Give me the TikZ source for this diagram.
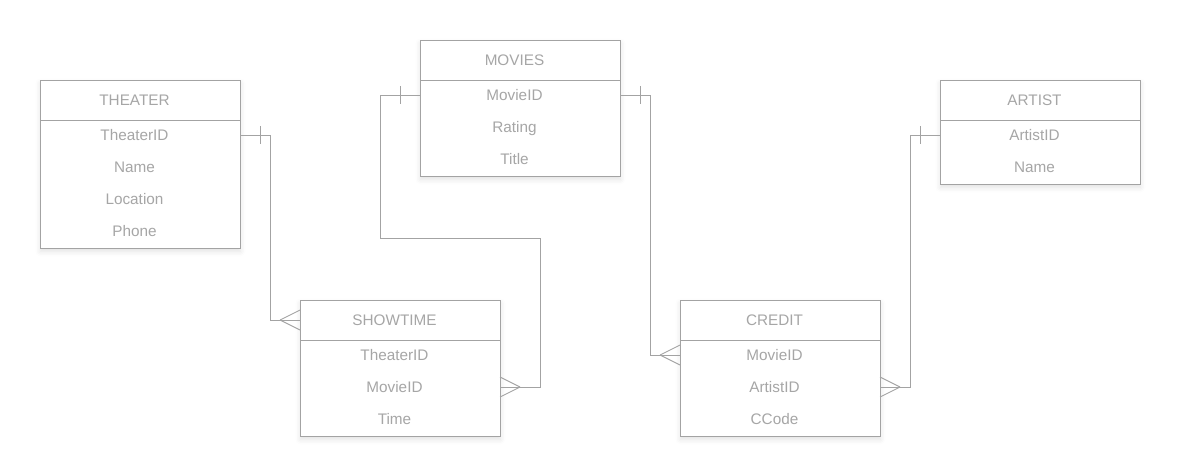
\documentclass[tikz,border=0pt]{standalone}
\usepackage{fontspec}
\setmainfont{Liberation Sans}
\usetikzlibrary{shadows.blur}
\definecolor{boxline}{HTML}{A3A3A3}
\definecolor{txt}{HTML}{A6A6A6}
\tikzset{
  entity/.style={draw=boxline, line width=0.9pt, fill=white, anchor=north west, minimum width=200pt, inner sep=0pt,
     blur shadow={shadow xshift=0pt, shadow yshift=-3pt, shadow blur radius=5pt, shadow opacity=12}},
  lbl/.style={text=txt, font=\fontsize{15.3}{17}\selectfont, inner sep=0pt, anchor=base},
  rel/.style={draw=boxline, line width=0.9pt},
}
\begin{document}
\begin{tikzpicture}[x=1pt,y=-1pt]
\useasboundingbox (0,0) rectangle (1180,476);

% THEATER
\node[entity, minimum height=168pt] (theater) at (40,80) {};
\draw[rel] ([yshift=-40pt]theater.north west) -- ([yshift=-40pt]theater.north east);
\node[lbl] (thH) at (134.5,105.5) {THEATER};
\node[lbl] (th1) at (134.5,140.5) {TheaterID};
\node[lbl] (th2) at (134.5,172.5) {Name};
\node[lbl] (th3) at (134.5,204.5) {Location};
\node[lbl] (th4) at (134.5,236.5) {Phone};

% MOVIES
\node[entity, minimum height=136pt] (movies) at (420,40) {};
\draw[rel] ([yshift=-40pt]movies.north west) -- ([yshift=-40pt]movies.north east);
\node[lbl] (mvH) at (514.5,65.5) {MOVIES};
\node[lbl] (mv1) at (514.5,100.5) {MovieID};
\node[lbl] (mv2) at (514.5,132.5) {Rating};
\node[lbl] (mv3) at (514.5,164.5) {Title};

% ARTIST
\node[entity, minimum height=104pt] (artist) at (940,80) {};
\draw[rel] ([yshift=-40pt]artist.north west) -- ([yshift=-40pt]artist.north east);
\node[lbl] (arH) at (1034.5,105.5) {ARTIST};
\node[lbl] (ar1) at (1034.5,140.5) {ArtistID};
\node[lbl] (ar2) at (1034.5,172.5) {Name};

% SHOWTIME
\node[entity, minimum height=136pt] (showtime) at (300,300) {};
\draw[rel] ([yshift=-40pt]showtime.north west) -- ([yshift=-40pt]showtime.north east);
\node[lbl] (shH) at (394.5,325.5) {SHOWTIME};
\node[lbl] (sh1) at (394.5,360.5) {TheaterID};
\node[lbl] (sh2) at (394.5,392.5) {MovieID};
\node[lbl] (sh3) at (394.5,424.5) {Time};

% CREDIT
\node[entity, minimum height=136pt] (credit) at (680,300) {};
\draw[rel] ([yshift=-40pt]credit.north west) -- ([yshift=-40pt]credit.north east);
\node[lbl] (crH) at (774.5,325.5) {CREDIT};
\node[lbl] (cr1) at (774.5,360.5) {MovieID};
\node[lbl] (cr2) at (774.5,392.5) {ArtistID};
\node[lbl] (cr3) at (774.5,424.5) {CCode};

% anchor points for connectors (row centres)
\coordinate (pTh) at (240,135);
\coordinate (pMvL) at (420,95);
\coordinate (pMvR) at (620,95);
\coordinate (pAr) at (940,135);
\coordinate (pShH) at (300,320);
\coordinate (pSh2) at (500,387);
\coordinate (pCr1) at (680,355);
\coordinate (pCr2) at (880,387);

% THEATER -> SHOWTIME
\draw[rel] (pTh) -- ++(30,0) |- (pShH);
\draw[rel] ([xshift=20pt]pTh) ++(0,-9) -- ++(0,18);
\draw[rel] ([xshift=-20pt]pShH) -- ++(20,-10);
\draw[rel] ([xshift=-20pt]pShH) -- ++(20,10);

% MOVIES -> SHOWTIME
\draw[rel] (pMvL) -- ++(-40,0) -- ++(0,143) -- ++(160,0) |- (pSh2);
\draw[rel] ([xshift=-20pt]pMvL) ++(0,-9) -- ++(0,18);
\draw[rel] ([xshift=20pt]pSh2) -- ++(-20,-10);
\draw[rel] ([xshift=20pt]pSh2) -- ++(-20,10);

% MOVIES -> CREDIT
\draw[rel] (pMvR) -- ++(30,0) |- (pCr1);
\draw[rel] ([xshift=20pt]pMvR) ++(0,-9) -- ++(0,18);
\draw[rel] ([xshift=-20pt]pCr1) -- ++(20,-10);
\draw[rel] ([xshift=-20pt]pCr1) -- ++(20,10);

% ARTIST -> CREDIT
\draw[rel] (pAr) -- ++(-30,0) |- (pCr2);
\draw[rel] ([xshift=-20pt]pAr) ++(0,-9) -- ++(0,18);
\draw[rel] ([xshift=20pt]pCr2) -- ++(-20,-10);
\draw[rel] ([xshift=20pt]pCr2) -- ++(-20,10);
\end{tikzpicture}
\end{document}
